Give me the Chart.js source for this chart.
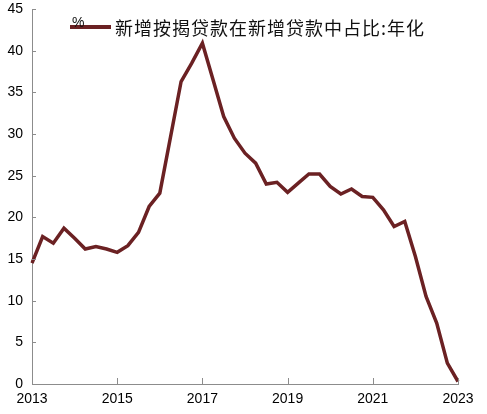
<!DOCTYPE html>
<html>
<head>
<meta charset="utf-8">
<script src="https://cdn.jsdelivr.net/npm/chart.js@4/dist/chart.umd.min.js"></script>
<style>
  html, body { margin: 0; padding: 0; background: #fff; }
  #wrap { width: 487px; height: 414px; }
</style>
</head>
<body>
<div id="wrap"><canvas id="chart" width="487" height="414"></canvas></div>
<script>
// quarterly points, 2013 .. 2023
const quarters = [];
for (let y = 2013; y <= 2023; y++) {
    for (let q = 1; q <= 4; q++) {
        if (y === 2023 && q > 1) break;
        quarters.push(y + 'Q' + q);
    }
}
const shareValues = [
    14.5, 17.7, 16.9, 18.7, 17.5, 16.2, 16.5, 16.2, 15.8, 16.6,
    18.2, 21.3, 22.9, 29.6, 36.3, 38.5, 40.9, 36.5, 32.1, 29.5,
    27.7, 26.5, 24.0, 24.2, 23.0, 24.1, 25.2, 25.2, 23.7, 22.8,
    23.4, 22.5, 22.4, 20.9, 18.9, 19.5, 15.3, 10.5, 7.3, 2.5,
    0.3
];
const seriesName = '新增按揭贷款在新增贷款中占比:年化';
const unitLabel = '%';
const lineColor = '#6b2123';

// small tick marks drawn inside the plot, plus legend and unit text
const decorPlugin = {
    id: 'decor',
    afterDraw(chart) {
        const ctx = chart.ctx;
        const area = chart.chartArea;
        const xs = chart.scales.x;
        const ys = chart.scales.y;
        ctx.save();
        ctx.strokeStyle = '#8c8c8c';
        ctx.lineWidth = 1;
        ctx.beginPath();
        ys.ticks.forEach((t, i) => {
            const py = Math.round(ys.getPixelForTick(i)) + 0.5;
            ctx.moveTo(area.left, py);
            ctx.lineTo(area.left + 4, py);
        });
        quarters.forEach((q, i) => {
            if (i % 8 !== 0) return;
            const px = Math.round(xs.getPixelForValue(i)) + 0.5;
            ctx.moveTo(px, area.bottom);
            ctx.lineTo(px, area.bottom - 6);
        });
        ctx.stroke();

        // legend
        ctx.strokeStyle = lineColor;
        ctx.lineWidth = 4;
        ctx.beginPath();
        ctx.moveTo(70, 27);
        ctx.lineTo(111, 27);
        ctx.stroke();
        ctx.fillStyle = '#111';
        ctx.font = '18px "Noto Sans CJK SC"';
        ctx.textBaseline = 'middle';
        if ('letterSpacing' in ctx) ctx.letterSpacing = '1px';
        ctx.fillText(chart.data.datasets[0].label, 115, 28);
        if ('letterSpacing' in ctx) ctx.letterSpacing = '0px';
        ctx.font = '14px "Liberation Sans"';
        ctx.textBaseline = 'alphabetic';
        ctx.fillText(unitLabel, 72, 27);
        ctx.restore();
    }
};

new Chart(document.getElementById('chart'), {
    type: 'line',
    data: {
        labels: quarters,
        datasets: [{
            label: seriesName,
            data: shareValues,
            borderColor: lineColor,
            borderWidth: 3.5,
            pointRadius: 0,
            tension: 0,
            fill: false
        }]
    },
    options: {
        responsive: false,
        animation: false,
        layout: { padding: { left: 0, right: 29, top: 9, bottom: 0 } },
        plugins: { legend: { display: false }, tooltip: { enabled: false } },
        scales: {
            x: {
                offset: false,
                grid: { display: false, drawTicks: false },
                border: { color: '#8c8c8c', width: 1 },
                ticks: {
                    autoSkip: false,
                    maxRotation: 0,
                    padding: 7,
                    color: '#000',
                    font: { family: 'Liberation Sans', size: 14 },
                    callback: function (v, i) {
                        return i % 8 === 0 ? quarters[i].slice(0, 4) : '';
                    }
                },
                afterFit(scale) {
                    scale.height = 30;
                    scale.paddingLeft = 0;
                    scale.paddingRight = 0;
                }
            },
            y: {
                min: 0,
                max: 45,
                grid: { display: false, drawTicks: false },
                border: { color: '#8c8c8c', width: 1 },
                ticks: {
                    stepSize: 5,
                    padding: 9,
                    color: '#000',
                    font: { family: 'Liberation Sans', size: 14 }
                },
                afterFit(scale) {
                    scale.width = 32;
                    scale.paddingTop = 0;
                    scale.paddingBottom = 0;
                }
            }
        }
    },
    plugins: [decorPlugin]
});
</script>
</body>
</html>
